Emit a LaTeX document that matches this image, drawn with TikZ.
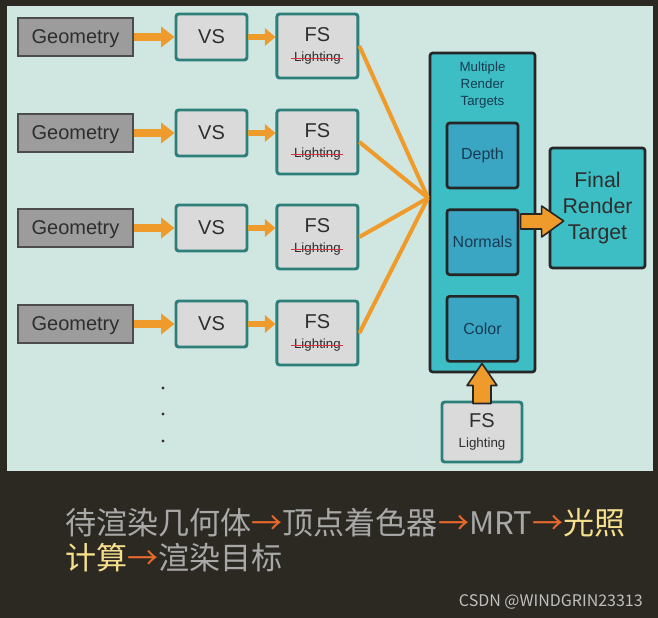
\documentclass[tikz,border=0pt]{standalone}
\usepackage{fontspec}
\setsansfont{Liberation Sans}
\newfontfamily\cjk{Noto Sans CJK SC}
\usepackage{tikz}
\usetikzlibrary{positioning,arrows.meta,calc}
\usepackage{xcolor}

\definecolor{bgdark}{HTML}{2C2923}
\definecolor{panel}{HTML}{D0E6E1}
\definecolor{pipeorange}{HTML}{EE9B2C}
\definecolor{shaderfill}{HTML}{DADADA}
\definecolor{shaderedge}{HTML}{2D7F7A}
\definecolor{geofill}{HTML}{9C9C9C}
\definecolor{mrtcyan}{HTML}{3DBEC4}
\definecolor{bufblue}{HTML}{3AA6C4}
\definecolor{boxtext}{HTML}{2E2E2E}
\definecolor{buftext}{HTML}{173B52}
\definecolor{strikered}{HTML}{D8343E}
\definecolor{capgray}{HTML}{A8A8A8}
\definecolor{caparrow}{HTML}{E8692C}
\definecolor{capyellow}{HTML}{F6DF8C}

\begin{document}
\begin{tikzpicture}[
    x=0.75pt, y=-0.75pt,
    geobox/.style={draw=black!70, line width=0.8pt, fill=geofill, minimum width=86.25pt, minimum height=28.5pt, inner sep=0pt, text depth=0.1em, font=\sffamily\fontsize{15}{17}\selectfont, text=boxtext},
    shader/.style={draw=shaderedge, line width=2.2pt, fill=shaderfill, rounded corners=2pt, inner sep=0pt, text=boxtext, align=center},
    vsbox/.style={shader, minimum width=53.25pt, minimum height=34.5pt, font=\sffamily\fontsize{15}{17}\selectfont},
    fsbox/.style={shader, minimum width=60.75pt, minimum height=48pt},
    target/.style={draw=black!85, line width=2pt, rounded corners=2pt, fill=mrtcyan, inner sep=0pt},
    buffer/.style={target, fill=bufblue, minimum width=53.25pt, minimum height=48.75pt, font=\sffamily\fontsize{12}{14}\selectfont, text=buftext},
    pipe/.style={-{Triangle[length=10pt,width=15pt]}, line width=6pt, pipeorange},
    shortpipe/.style={-{Triangle[length=8pt,width=13pt]}, line width=5pt, pipeorange},
    feed/.style={line width=3pt, pipeorange},
    strikeout/.style={strikered, line width=1.4pt},
    blockarrow/.style={fill=pipeorange, draw=black!85, line width=1.2pt, line join=round},
    caption/.style={font=\cjk\fontsize{23.3}{26}\selectfont, text=capgray, inner sep=0pt, anchor=base west},
    node distance=30.75pt
]
% Background
\fill[bgdark] (0,0) rectangle (658,618);
\fill[panel] (7,6) rectangle (653,471);
\useasboundingbox (0,0) rectangle (658,618);

% Geometry -> VS -> FS rows
\node[geobox] (geo1) at (75.5,37) {Geometry};
\node[vsbox, right=of geo1] (vs1) {VS};
\node[fsbox, right=20.25pt of vs1.north east, anchor=north west] (fs1) {\fontsize{15}{17}\sffamily FS\\[3pt]{\fontsize{10}{12}\sffamily Lighting}};

\node[geobox] (geo2) at (75.5,133) {Geometry};
\node[vsbox, right=of geo2] (vs2) {VS};
\node[fsbox, right=20.25pt of vs2.north east, anchor=north west] (fs2) {\fontsize{15}{17}\sffamily FS\\[3pt]{\fontsize{10}{12}\sffamily Lighting}};

\node[geobox] (geo3) at (75.5,228) {Geometry};
\node[vsbox, right=of geo3] (vs3) {VS};
\node[fsbox, right=20.25pt of vs3.north east, anchor=north west] (fs3) {\fontsize{15}{17}\sffamily FS\\[3pt]{\fontsize{10}{12}\sffamily Lighting}};

\node[geobox] (geo4) at (75.5,324) {Geometry};
\node[vsbox, right=of geo4] (vs4) {VS};
\node[fsbox, right=20.25pt of vs4.north east, anchor=north west] (fs4) {\fontsize{15}{17}\sffamily FS\\[3pt]{\fontsize{10}{12}\sffamily Lighting}};

% crossed-out lighting
\draw[strikeout] ($(fs1.south)+(-26,-21)$) -- ++(52,0);
\draw[strikeout] ($(fs2.south)+(-26,-21)$) -- ++(52,0);
\draw[strikeout] ($(fs3.south)+(-26,-21)$) -- ++(52,0);
\draw[strikeout] ($(fs4.south)+(-26,-21)$) -- ++(52,0);

\fill[black!80] (163,388) circle (1.6) (163,414) circle (1.6) (163,441) circle (1.6);

% Multiple render targets
\node[target, minimum width=78.75pt, minimum height=239.25pt] (mrt) at (482.5,212.5) {};
\node[font=\sffamily\fontsize{10}{12.75}\selectfont, text=buftext, align=center] (mrtlabel) at (482.5,85) {Multiple\\Render\\Targets};
\node[buffer] (depth) at (482.5,155.5) {Depth};
\node[buffer, below=14.25pt of depth] (normals) {Normals};
\node[buffer, below=14.25pt of normals] (color) {Color};
\node[target, fill=mrtcyan, minimum width=71.25pt, minimum height=90pt, align=center, font=\sffamily\fontsize{16}{19.5}\selectfont, text=boxtext] (final) at (597.5,208) {Final\\Render\\Target};
\node[shader, minimum width=60pt, minimum height=45pt] (lightfs) at (482,432) {\fontsize{15}{17}\sffamily FS\\[3pt]{\fontsize{10}{12}\sffamily Lighting}};
\coordinate (join) at (428,198);

% Arrows
\draw[pipe] (geo1) -- (vs1);
\draw[pipe] (geo2) -- (vs2);
\draw[pipe] (geo3) -- (vs3);
\draw[pipe] (geo4) -- (vs4);
\draw[shortpipe] (vs1.east) -- (vs1.east -| fs1.west);
\draw[shortpipe] (vs2.east) -- (vs2.east -| fs2.west);
\draw[shortpipe] (vs3.east) -- (vs3.east -| fs3.west);
\draw[shortpipe] (vs4.east) -- (vs4.east -| fs4.west);
\draw[feed] (fs1.east) -- (join);
\draw[feed] (fs2.east) -- (join);
\draw[feed] (fs3.east) -- (join);
\draw[feed] (fs4.east) -- (join);
\draw[blockarrow] (final.west) ++(-28,6) -- ++(21,0) -- ++(0,-8) -- ++(22,15) -- ++(-22,16) -- ++(0,-8) -- ++(-21,0) -- cycle;
\draw[blockarrow] (lightfs.north) ++(-9,3) -- ++(0,-18) -- ++(-6,0) -- ++(15,-22) -- ++(15,22) -- ++(-6,0) -- ++(0,18) -- cycle;

% Caption
\node[caption] (cap1) at (65,534) {待渲染几何体\textcolor{caparrow}{→}顶点着色器\textcolor{caparrow}{→}MRT\textcolor{caparrow}{→}\textcolor{capyellow}{光照}};
\node[caption] (cap2) at (65,569) {\textcolor{capyellow}{计算}\textcolor{caparrow}{→}渲染目标};
\node[font=\cjk\fontsize{12}{14}\selectfont, text=black!25, anchor=base east, inner sep=0pt] (mark) at (643,606) {CSDN @WINDGRIN23313};
\end{tikzpicture}
\end{document}
